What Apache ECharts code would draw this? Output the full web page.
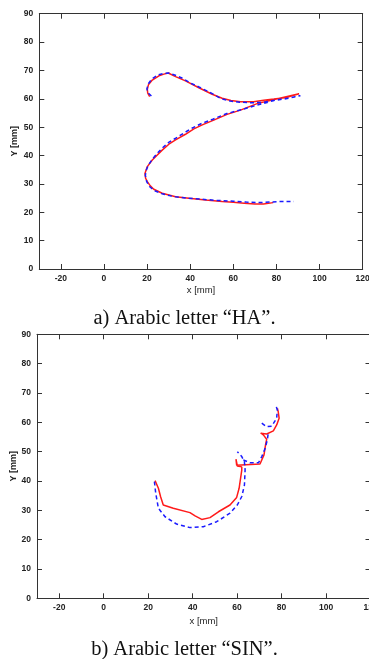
<!DOCTYPE html>
<html>
<head>
<meta charset="utf-8">
<script src="https://cdn.jsdelivr.net/npm/echarts@6/dist/echarts.min.js"></script>
<style>
html,body{margin:0;padding:0;background:#fff;}
#chart{width:369px;height:659px;}
</style>
</head>
<body>
<div id="chart"></div>
<script>
// ---- data ----
const xTicks = [-20, 0, 20, 40, 60, 80, 100, 120];
const yTicks = [0, 10, 20, 30, 40, 50, 60, 70, 80, 90];
const captions = ['a) Arabic letter \u201CHA\u201D.', 'b) Arabic letter \u201CSIN\u201D.'];
const xName = 'x [mm]';
const yName = 'Y [mm]';

// Arabic letter "HA": red solid and blue dashed traces [x, y] in mm
const haRed = [[21.2,60.8],[20.3,62.0],[20.1,63.3],[20.6,64.9],[22.4,66.6],[25.5,68.1],[27.8,68.7],[29.8,69.1],[33.2,67.8],[37.8,66.3],[44.0,63.9],[50.2,61.6],[54.8,60.2],[58.9,59.4],[63.3,59.0],[69.4,59.0],[74.1,59.5],[78.8,59.9],[84.9,60.5],[90.5,61.8],[80.0,59.9],[71.0,58.3],[63.3,56.0],[57.1,54.5],[50.9,52.5],[45.6,50.8],[41.7,49.4],[37.8,47.5],[33.2,45.5],[30.1,44.0],[27.0,41.9],[24.5,40.0],[22.4,38.4],[20.1,36.1],[19.0,33.7],[19.3,32.0],[20.1,30.8],[21.5,29.3],[23.1,28.1],[27.0,26.7],[33.2,25.5],[39.4,24.9],[47.1,24.3],[54.8,23.8],[60.0,23.5],[65.0,23.2],[70.0,22.9],[74.0,22.9],[78.5,23.4]];
const haBlue = [[22.0,61.0],[20.6,62.0],[19.9,63.5],[20.5,65.2],[22.2,67.0],[25.3,68.5],[28.0,69.0],[30.0,69.1],[33.5,68.2],[36.5,67.2],[40.0,65.6],[44.5,64.0],[50.0,61.9],[54.5,60.0],[58.5,59.2],[63.0,58.8],[68.0,58.6],[73.5,58.7],[78.5,59.4],[85.0,60.2],[91.1,61.1],[85.0,60.1],[79.0,59.4],[72.0,58.0],[64.0,56.2],[57.0,54.8],[50.5,52.8],[45.0,51.2],[41.0,49.7],[37.0,47.9],[33.0,46.0],[30.0,44.6],[27.0,42.6],[24.5,40.6],[22.3,38.6],[20.5,36.5],[19.5,34.6],[19.2,33.0],[19.8,30.8],[21.2,29.0],[23.5,27.6],[27.0,26.5],[32.0,25.6],[38.0,25.0],[45.0,24.6],[52.0,24.2],[60.0,23.9],[66.0,23.6],[72.0,23.4],[77.0,23.6],[82.0,23.8],[88.0,23.8]];

// Arabic letter "SIN"
const sinRed = [[23.1,40.1],[24.6,37.5],[25.6,34.6],[26.8,31.8],[31.3,30.7],[38.8,29.2],[41.1,28.1],[44.1,26.9],[47.8,27.5],[51.6,29.5],[56.8,31.8],[59.8,34.4],[60.9,37.5],[62.1,43.7],[62.1,44.8],[60.1,45.1],[59.5,47.4],[59.8,45.4],[70.3,45.8],[72.1,48.9],[72.9,52.8],[73.3,54.2],[71.8,55.7],[70.6,56.3],[73.3,56.0],[76.3,57.1],[77.8,59.1],[78.9,61.4],[78.5,63.6],[78.1,64.8]];
const sinBlue = [[22.8,39.8],[23.4,35.8],[24.6,30.7],[27.6,27.8],[32.8,25.3],[38.8,24.1],[44.8,24.4],[50.8,26.1],[56.8,29.0],[60.1,31.8],[62.1,34.7],[63.3,38.6],[63.6,43.8],[63.3,46.5],[62.1,48.3],[60.1,50.0],null,[62.8,47.2],[65.8,46.2],[69.6,46.2],[71.1,48.3],[72.6,51.1],[73.6,54.0],[74.0,56.3],null,[71.1,59.7],[73.3,58.5],[75.6,58.7],[77.8,61.4],[78.1,64.2],[77.4,65.9]];

// ---- chart ----
const axisColor = '#333';
const labelFont = {fontFamily: 'Liberation Sans, Arial, sans-serif', fontSize: 8.5, color: '#222', fontWeight: 'bold'};
const grids = [
  {left: 39.3, top: 13.7, width: 323.4, height: 255.3, containLabel: false, outerBoundsMode: 'none'},
  {left: 37.0, top: 334.3, width: 333.5, height: 264.0, containLabel: false, outerBoundsMode: 'none'}
];
const xNameGaps = [16, 18];
const yNameGaps = [20, 19];

const xAxes = [], yAxes = [];
grids.forEach((g, i) => {
  const baseX = {
    type: 'value', gridIndex: i, min: -30, max: 120,
    axisLine: {show: true, onZero: false, lineStyle: {color: axisColor, width: 1}},
    axisTick: {show: true, inside: true, length: 5, customValues: xTicks, lineStyle: {color: axisColor}},
    splitLine: {show: false}
  };
  xAxes.push(Object.assign({}, baseX, {
    position: 'bottom',
    axisLabel: Object.assign({show: true, margin: 5, customValues: xTicks}, labelFont),
    name: xName, nameLocation: 'middle', nameGap: xNameGaps[i], nameMoveOverlap: false,
    nameTextStyle: Object.assign({}, labelFont, {fontSize: 9.5, fontWeight: 'normal'})
  }));
  xAxes.push(Object.assign({}, baseX, {position: 'top', axisLabel: {show: false}}));
  const baseY = {
    type: 'value', gridIndex: i, min: 0, max: 90,
    axisLine: {show: true, onZero: false, lineStyle: {color: axisColor, width: 1}},
    axisTick: {show: true, inside: true, length: 5, customValues: yTicks, lineStyle: {color: axisColor}},
    splitLine: {show: false}
  };
  yAxes.push(Object.assign({}, baseY, {
    position: 'left',
    axisLabel: Object.assign({show: true, margin: 6, customValues: yTicks}, labelFont),
    name: yName, nameLocation: 'middle', nameGap: yNameGaps[i], nameRotate: 90, nameMoveOverlap: false,
    nameTextStyle: Object.assign({}, labelFont, {fontSize: 9})
  }));
  yAxes.push(Object.assign({}, baseY, {position: 'right', axisLabel: {show: false}}));
});

function lineSeries(name, data, gi, color, dashed) {
  return {
    name: name, type: 'line', xAxisIndex: gi * 2, yAxisIndex: gi * 2,
    data: data, showSymbol: false, symbol: 'none', smooth: false, connectNulls: false,
    animation: false,
    lineStyle: {color: color, width: 1.5, type: dashed ? [4, 3] : 'solid'}
  };
}

const captionStyle = {fontFamily: 'Liberation Serif, Times New Roman, serif', fontSize: 20.5, fontWeight: 'normal', color: '#111'};
const option = {
  animation: false,
  backgroundColor: '#fff',
  title: [
    {text: captions[0], left: 'center', top: 303, textStyle: captionStyle},
    {text: captions[1], left: 'center', top: 634, textStyle: captionStyle}
  ],
  grid: grids,
  xAxis: xAxes,
  yAxis: yAxes,
  series: [
    lineSeries('HA red', haRed, 0, '#ff1a1a', false),
    lineSeries('HA blue', haBlue, 0, '#1a1aff', true),
    lineSeries('SIN red', sinRed, 1, '#ff1a1a', false),
    lineSeries('SIN blue', sinBlue, 1, '#1a1aff', true)
  ]
};

const chart = echarts.init(document.getElementById('chart'), null, {renderer: 'canvas'});
chart.setOption(option);
</script>
</body>
</html>
